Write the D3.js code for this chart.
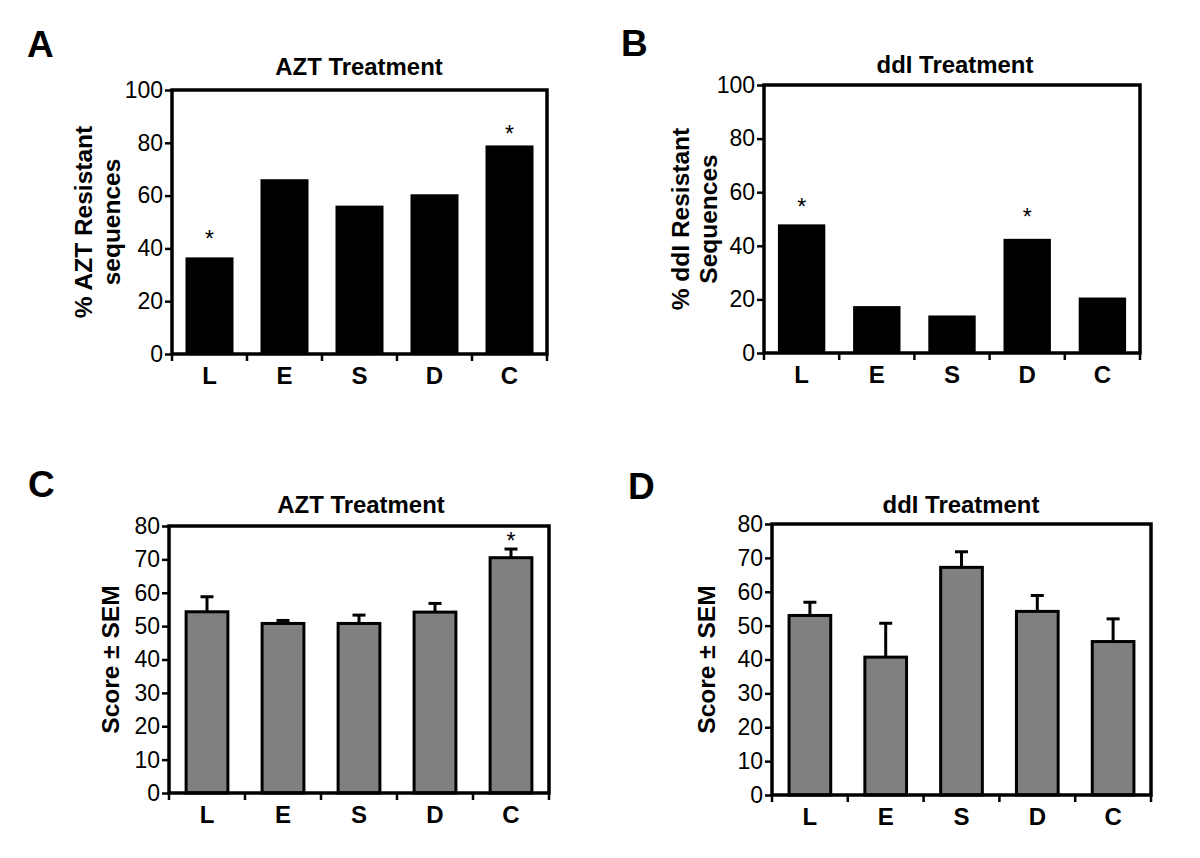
<!DOCTYPE html>
<html>
<head>
<meta charset="utf-8">
<script src="https://cdn.jsdelivr.net/npm/d3@7"></script>
<style>
  html, body { margin: 0; padding: 0; background: #fff; }
  svg { display: block; }
  text { font-family: "Liberation Sans", Arial, Helvetica, sans-serif; fill: #000; }
</style>
</head>
<body>
<svg id="chart" width="1200" height="858"></svg>
<script>
// ---------------- data ----------------
const categories = ["L", "E", "S", "D", "C"];

const aztResistant = [36.6, 66.2, 56.2, 60.5, 79.0];
const ddiResistant = [48.0, 17.5, 14.0, 42.6, 20.7];

const aztScore    = [54.3, 50.8, 50.8, 54.2, 70.5];
const aztScoreSEM = [4.5, 0.9, 2.5, 2.6, 2.6];
const ddiScore    = [53.0, 40.7, 67.2, 54.2, 45.3];
const ddiScoreSEM = [3.9, 10.0, 4.6, 4.7, 6.7];

// significance markers (value position of the asterisk centre, null = none)
const aztResistantStars = [45.1, null, null, null, 84.8];
const ddiResistantStars = [55.8, null, null, 52.4, null];
const aztScoreStars     = [null, null, null, null, 76.7];
const ddiScoreStars     = [null, null, null, null, null];

const percentTicks = [0, 20, 40, 60, 80, 100];
const scoreTicks   = [0, 10, 20, 30, 40, 50, 60, 70, 80];

const panelLetters = ["A", "B", "C", "D"];
const panelTitles  = ["AZT Treatment", "ddI Treatment", "AZT Treatment", "ddI Treatment"];
const yTitles = [
  ["% AZT Resistant", "sequences"],
  ["% ddI Resistant", "Sequences"],
  ["Score \u00B1 SEM"],
  ["Score \u00B1 SEM"]
];

// ---------------- layout ----------------
const svg = d3.select("#chart");

const panels = [
  { values: aztResistant, sem: null, stars: aztResistantStars, ticks: percentTicks, max: 100,
    box: { left: 172, right: 547, top: 90, bottom: 354 }, letter: [27, 57],
    titleX: 359, titleY: 75, yTitleX: [92, 120], fill: "#000", stroke: "none", pad: 0.36 },
  { values: ddiResistant, sem: null, stars: ddiResistantStars, ticks: percentTicks, max: 100,
    box: { left: 764, right: 1140, top: 85, bottom: 353 }, letter: [621, 56],
    titleX: 955, titleY: 73, yTitleX: [689, 717], fill: "#000", stroke: "none", pad: 0.37 },
  { values: aztScore, sem: aztScoreSEM, stars: aztScoreStars, ticks: scoreTicks, max: 80,
    box: { left: 169, right: 549, top: 526, bottom: 793 }, letter: [28, 497],
    titleX: 361, titleY: 513, yTitleX: [119], fill: "#808080", stroke: "#000", pad: 0.45 },
  { values: ddiScore, sem: ddiScoreSEM, stars: ddiScoreStars, ticks: scoreTicks, max: 80,
    box: { left: 772, right: 1151, top: 524, bottom: 795 }, letter: [628, 499],
    titleX: 961, titleY: 513, yTitleX: [715], fill: "#808080", stroke: "#000", pad: 0.45 }
];

function hText(g, x, y, str, size, weight, anchor, sx) {
  return g.append("text")
    .attr("transform", `translate(${x},${y}) scale(${sx || 1},1)`)
    .attr("text-anchor", anchor || "start")
    .attr("font-size", size)
    .attr("font-weight", weight || "normal")
    .text(str);
}

panels.forEach((p, idx) => {
  const b = p.box;
  const g = svg.append("g");

  const x = d3.scaleBand()
    .domain(categories)
    .range([b.left, b.right])
    .paddingInner(p.pad)
    .paddingOuter(p.pad / 2);

  const y = d3.scaleLinear()
    .domain([0, p.max])
    .range([b.bottom, b.top]);

  // panel letter
  hText(g, p.letter[0], p.letter[1], panelLetters[idx], 37, "bold");

  // title
  hText(g, p.titleX, p.titleY, panelTitles[idx], 23, "bold", "middle", 1.04);

  // y-axis title
  const midY = (b.top + b.bottom) / 2;
  yTitles[idx].forEach((line, i) => {
    g.append("text")
      .attr("transform", `translate(${p.yTitleX[i]},${midY}) rotate(-90)`)
      .attr("text-anchor", "middle")
      .attr("font-size", 24.5).attr("font-weight", "bold")
      .text(line);
  });

  // bars
  g.selectAll("rect.bar")
    .data(p.values)
    .join("rect")
    .attr("class", "bar")
    .attr("x", (d, i) => x(categories[i]))
    .attr("width", x.bandwidth())
    .attr("y", d => y(d))
    .attr("height", d => y(0) - y(d))
    .attr("fill", p.fill)
    .attr("stroke", p.stroke)
    .attr("stroke-width", p.stroke === "none" ? 0 : 3);

  // error bars (upper only)
  if (p.sem) {
    p.values.forEach((v, i) => {
      const cx = x(categories[i]) + x.bandwidth() / 2;
      const top = y(v + p.sem[i]);
      g.append("line")
        .attr("x1", cx).attr("x2", cx)
        .attr("y1", y(v)).attr("y2", top)
        .attr("stroke", "#000").attr("stroke-width", 3);
      g.append("line")
        .attr("x1", cx - 6.5).attr("x2", cx + 6.5)
        .attr("y1", top).attr("y2", top)
        .attr("stroke", "#000").attr("stroke-width", 3);
    });
  }

  // asterisks
  p.stars.forEach((s, i) => {
    if (s === null) return;
    hText(g, x(categories[i]) + x.bandwidth() / 2, y(s) + 12, "*", 23, "normal", "middle");
  });

  // frame
  g.append("rect")
    .attr("x", b.left).attr("y", b.top)
    .attr("width", b.right - b.left).attr("height", b.bottom - b.top)
    .attr("fill", "none").attr("stroke", "#000").attr("stroke-width", 3.5);

  // y axis
  const yAxis = g.append("g")
    .attr("transform", `translate(${b.left},0)`)
    .call(d3.axisLeft(y).tickValues(p.ticks).tickSize(7).tickPadding(2));
  yAxis.select(".domain").remove();
  yAxis.selectAll(".tick line").attr("stroke-width", 2.5);
  yAxis.selectAll(".tick text")
    .attr("font-size", 23)
    .attr("font-family", "Liberation Sans, Arial, sans-serif");

  // x axis: labels centered in bands, ticks at band boundaries
  const xAxis = g.append("g")
    .attr("transform", `translate(0,${b.bottom})`)
    .call(d3.axisBottom(x).tickSize(0).tickPadding(13));
  xAxis.select(".domain").remove();
  xAxis.selectAll(".tick text")
    .attr("font-size", 24).attr("font-weight", "bold")
    .attr("font-family", "Liberation Sans, Arial, sans-serif");

  const boundaries = d3.range(categories.length + 1)
    .map(i => i === categories.length ? b.right : x(categories[i]) - x.step() * x.paddingInner() / 2);
  g.selectAll("line.xtick")
    .data(boundaries)
    .join("line")
    .attr("class", "xtick")
    .attr("x1", d => d).attr("x2", d => d)
    .attr("y1", b.bottom).attr("y2", b.bottom + 7)
    .attr("stroke", "#000").attr("stroke-width", 2.5);
});
</script>
</body>
</html>
